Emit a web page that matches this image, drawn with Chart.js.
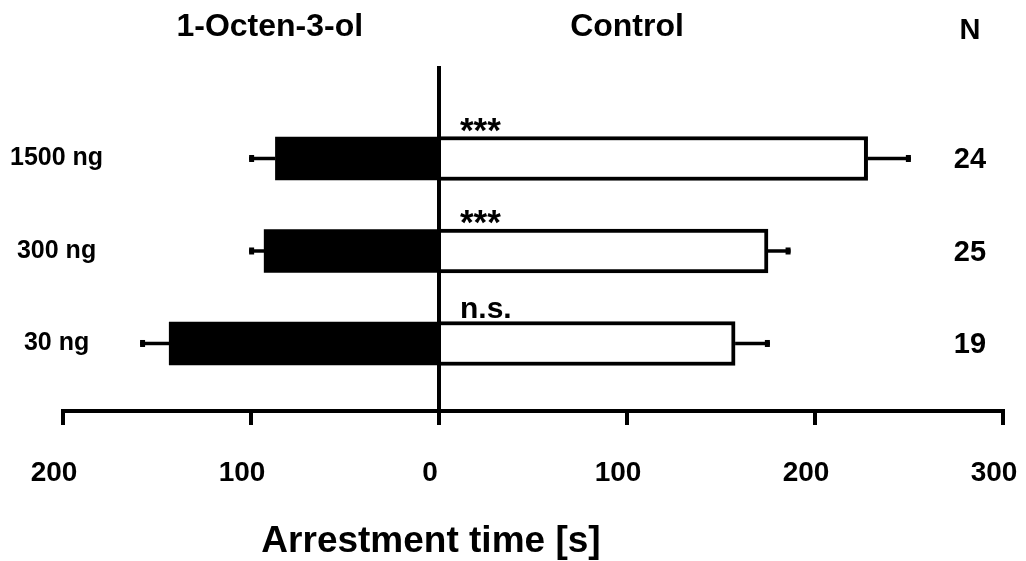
<!DOCTYPE html>
<html><head><meta charset="utf-8">
<script src="https://cdn.jsdelivr.net/npm/chart.js@4/dist/chart.umd.min.js"></script>
<style>html,body{margin:0;padding:0;background:#fff;}canvas{display:block;}</style>
</head><body>
<canvas id="c" width="1026" height="561"></canvas>
<script>
const categories = ['1500 ng', '300 ng', '30 ng'];
const seriesNames = ['1-Octen-3-ol', 'Control'];
const octenolMeans = [87, 93, 143.5];
const octenolErrors = [14, 8, 15.5];
const controlMeans = [228, 175, 157.5];
const controlErrors = [23, 12, 18.5];
const significance = ['***', '***', 'n.s.'];
const sampleSizes = ['24', '25', '19'];
const xTickValues = [-200, -100, 0, 100, 200, 300];
const axisTitle = 'Arrestment time [s]';
const nHeader = 'N';

const FONT = '"Liberation Sans", Arial, Helvetica, sans-serif';

const annotations = {
  id: 'annotations',
  afterDatasetsDraw(chart) {
    const {ctx, scales: {x, y}} = chart;
    ctx.save();
    ctx.strokeStyle = '#000';
    ctx.fillStyle = '#000';
    ctx.lineWidth = 3.5;
    const drawErr = (v, e, i, sign) => {
      const py = y.getPixelForValue(i);
      const x0 = x.getPixelForValue(sign * v);
      const x1 = x.getPixelForValue(sign * (v + e));
      ctx.beginPath(); ctx.moveTo(x0, py); ctx.lineTo(x1, py); ctx.stroke();
      const cx = sign > 0 ? x1 - 5 : x1;
      ctx.fillRect(cx, py - 3.5, 5, 7);
    };
    categories.forEach((c, i) => {
      drawErr(octenolMeans[i], octenolErrors[i], i, -1);
      drawErr(controlMeans[i], controlErrors[i], i, 1);
    });
    const zeroX = x.getPixelForValue(0);
    // significance labels
    ctx.textAlign = 'left';
    ctx.textBaseline = 'alphabetic';
    categories.forEach((c, i) => {
      const top = y.getPixelForValue(i) - 21.5;
      const isStars = significance[i].indexOf('*') >= 0;
      ctx.font = 'bold ' + (isStars ? 35 : 30) + 'px ' + FONT;
      ctx.fillText(significance[i], zeroX + 21, top + (isStars ? 5 : -4));
    });
    // N values
    ctx.font = 'bold 29px ' + FONT;
    ctx.textAlign = 'center';
    ctx.textBaseline = 'middle';
    const nX = x.right - 33;
    categories.forEach((c, i) => {
      ctx.fillText(sampleSizes[i], nX, y.getPixelForValue(i) + 2);
    });
    ctx.fillText(nHeader, nX, 31);
    // headers
    ctx.font = 'bold 32px ' + FONT;
    ctx.fillText(seriesNames[0], x.getPixelForValue(-90), 27);
    ctx.fillText(seriesNames[1], x.getPixelForValue(100), 27);
    // axis title
    ctx.font = 'bold 37px ' + FONT;
    ctx.fillText(axisTitle, zeroX - 8, 542);
    ctx.restore();
  }
};

new Chart(document.getElementById('c'), {
  type: 'bar',
  data: {
    datasets: [
      {
        label: seriesNames[0],
        data: octenolMeans.map((v, i) => ({x: -v, y: i})),
        backgroundColor: '#000',
        borderColor: '#000',
        borderWidth: 0,
        barThickness: 43,
        grouped: false
      },
      {
        label: seriesNames[1],
        data: controlMeans.map((v, i) => ({x: v, y: i})),
        backgroundColor: '#fff',
        borderColor: '#000',
        borderWidth: 4,
        borderSkipped: 'start',
        barThickness: 44,
        grouped: false
      }
    ]
  },
  options: {
    indexAxis: 'y',
    responsive: false,
    animation: false,
    devicePixelRatio: 1,
    layout: {padding: {left: 0, right: 23, top: 66, bottom: 0}},
    plugins: {legend: {display: false}, tooltip: {enabled: false}},
    scales: {
      x: {
        type: 'linear',
        position: 'bottom',
        z: 1,
        min: -200,
        max: 300,
        afterBuildTicks: (s) => { s.ticks = xTickValues.map(v => ({value: v})); },
        afterFit: (s) => { s.height = 150; s.paddingLeft = 0; s.paddingRight = 0; },
        border: {display: true, color: '#000', width: 4},
        grid: {
          drawOnChartArea: true,
          drawTicks: true,
          tickLength: 14,
          tickWidth: 4,
          tickColor: '#000',
          lineWidth: 4,
          color: (ctx) => (ctx.tick && ctx.tick.value === 0) ? '#000' : 'rgba(0,0,0,0)'
        },
        ticks: {
          color: '#000',
          font: {family: FONT, size: 28, weight: 'bold'},
          padding: 31,
          labelOffset: -9,
          maxRotation: 0,
          callback: (v) => String(Math.abs(v))
        }
      },
      y: {
        type: 'linear',
        position: 'left',
        reverse: true,
        offset: false,
        min: -1,
        max: 2.73,
        afterBuildTicks: (s) => { s.ticks = categories.map((c, i) => ({value: i})); },
        afterFit: (s) => { s.width = 63; s.paddingTop = 0; s.paddingBottom = 0; },
        border: {display: false},
        grid: {display: false, offset: false},
        ticks: {
          color: '#000',
          font: {family: FONT, size: 25, weight: 'bold'},
          mirror: true,
          crossAlign: 'center',
          padding: -53,
          callback: (v) => categories[v] !== undefined ? categories[v] : ''
        }
      }
    }
  },
  plugins: [annotations]
});
</script>
</body></html>
